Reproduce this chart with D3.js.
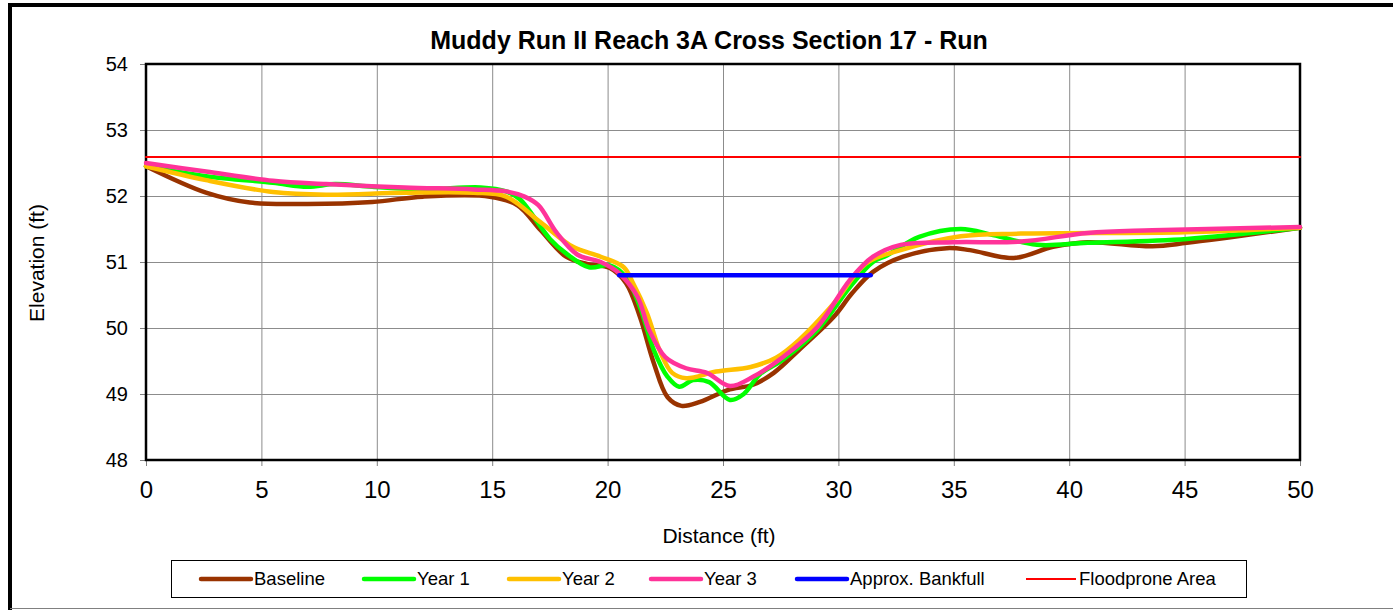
<!DOCTYPE html>
<meta charset="utf-8">
<style>
body { margin: 0; background: #fff; }
svg text { font-family: "Liberation Sans", Arial, sans-serif; fill: #000; }
.grid line { stroke: #8c8c8c; stroke-width: 1px; }
.series { fill: none; stroke-linecap: round; stroke-linejoin: round; }
</style>
<body>
<svg width="1393" height="610"></svg>
<script src="https://cdn.jsdelivr.net/npm/d3@7"></script>
<script>
// survey points: [distance (ft), elevation (ft)]
var baseline = [[0,52.45],[2.6,52.05],[4.5,51.9],[7,51.88],[9.8,51.91],[12,51.99],[14.9,51.99],[16.1,51.86],[17.1,51.48],[18.2,51.08],[19.1,50.97],[20.1,50.91],[20.8,50.68],[21.4,50.17],[22,49.47],[22.6,48.95],[23.2,48.82],[24,48.88],[25.2,49.06],[26.3,49.14],[27.2,49.32],[28.3,49.67],[29.8,50.17],[30.6,50.53],[31.5,50.85],[32.8,51.08],[34.7,51.21],[35.7,51.18],[37.6,51.06],[39.3,51.23],[40.8,51.3],[43.6,51.24],[45.1,51.29],[50,51.52]];
var year1 = [[0,52.45],[2.6,52.3],[5.5,52.2],[7,52.14],[8.2,52.18],[9.8,52.14],[12,52.1],[14.5,52.13],[15.6,52.07],[16.2,51.95],[17.5,51.35],[18.2,51.13],[19.2,50.92],[20.1,50.95],[20.8,50.77],[21.4,50.32],[22,49.67],[22.6,49.26],[23.1,49.11],[23.7,49.21],[24.4,49.18],[25.3,48.91],[25.9,49.0],[26.6,49.3],[27.6,49.52],[29.1,49.97],[30.5,50.62],[31.5,51.0],[32.1,51.1],[33.5,51.38],[35.3,51.5],[36.7,51.41],[38.6,51.26],[40.8,51.29],[45.1,51.35],[50,51.52]];
var year2 = [[0,52.45],[2.6,52.24],[5.5,52.06],[7.8,52.02],[11.2,52.05],[14.2,52.05],[15.6,51.99],[17.1,51.6],[18.5,51.23],[19.7,51.08],[20.7,50.92],[21.1,50.68],[21.7,50.23],[22.3,49.62],[22.8,49.32],[23.4,49.24],[24.7,49.34],[26.2,49.41],[27.3,49.55],[28.3,49.82],[29.8,50.37],[31.2,50.98],[32.7,51.18],[35.3,51.39],[37.9,51.43],[45,51.45],[50,51.52]];
var year3 = [[0,52.5],[2.6,52.37],[5.5,52.23],[7.8,52.18],[11.2,52.13],[14.2,52.1],[15.6,52.07],[16.4,51.99],[17,51.86],[17.8,51.44],[18.7,51.11],[19.7,51.0],[20.5,50.83],[21.3,50.47],[21.8,49.97],[22.5,49.56],[23.4,49.39],[24.3,49.32],[25.3,49.12],[26.3,49.26],[27.6,49.56],[29.1,50.02],[30.5,50.73],[31.5,51.08],[32.7,51.26],[35,51.3],[37.9,51.31],[40.8,51.44],[43.6,51.48],[50,51.53]];
var bankfull = [[20.5,50.8],[31.4,50.8]];
var floodprone = [[0,52.59],[50,52.59]];

var xTicks = [0,5,10,15,20,25,30,35,40,45,50];
var yTicks = [48,49,50,51,52,53,54];

var seriesNames = ["Baseline","Year 1","Year 2","Year 3","Approx. Bankfull","Floodprone Area"];
var seriesColors = ["#993300","#00ff00","#ffc000","#ff3399","#0000ff","#ff0000"];
var seriesWidths = [4.5,4.5,4.5,4.5,4.5,2];
var seriesData = [baseline, year1, year2, year3, bankfull, floodprone];

var svg = d3.select("svg"),
    margin = {top: 64, left: 146},
    width = 1154,
    height = 396;

// outer chart frame (right edge runs off the picture)
svg.append("path").attr("d", "M10,610 V5 H1400")
    .attr("fill", "none").attr("stroke", "#000").attr("stroke-width", 4);
svg.append("line").attr("x1", 10).attr("x2", 1393).attr("y1", 608.5).attr("y2", 608.5)
    .attr("stroke", "#808080").attr("stroke-width", 1);

svg.append("text")
    .attr("x", 709).attr("y", 49)
    .attr("text-anchor", "middle")
    .style("font-size", "25px").style("font-weight", "bold")
    .text("Muddy Run II Reach 3A Cross Section 17 - Run");

var g = svg.append("g").attr("transform", "translate(" + margin.left + "," + margin.top + ")");

var x = d3.scaleLinear().domain([0, 50]).range([0, width]),
    y = d3.scaleLinear().domain([48, 54]).range([height, 0]);

// gridlines
g.append("g").attr("class", "grid")
  .selectAll("line.v").data(xTicks.slice(1, -1)).enter().append("line")
    .attr("x1", function(d) { return x(d) + 0.5; }).attr("x2", function(d) { return x(d) + 0.5; })
    .attr("y1", 0).attr("y2", height);
g.append("g").attr("class", "grid")
  .selectAll("line.h").data(yTicks.slice(1, -1)).enter().append("line")
    .attr("y1", function(d) { return y(d) + 0.5; }).attr("y2", function(d) { return y(d) + 0.5; })
    .attr("x1", 0).attr("x2", width);

var xAxis = g.append("g")
    .attr("transform", "translate(0," + height + ")")
    .call(d3.axisBottom(x).tickValues(xTicks).tickFormat(d3.format("d")).tickSize(6).tickPadding(15));
var yAxis = g.append("g")
    .call(d3.axisLeft(y).tickValues(yTicks).tickFormat(d3.format("d")).tickSize(6).tickPadding(12));
xAxis.select(".domain").remove();
yAxis.select(".domain").remove();
xAxis.selectAll("line").attr("stroke", "#808080");
yAxis.selectAll("line").attr("stroke", "#808080");
xAxis.selectAll("text").style("font-size", "24px").style("font-family", "Liberation Sans, Arial, sans-serif");
yAxis.selectAll("text").style("font-size", "20px").style("font-family", "Liberation Sans, Arial, sans-serif");

// plot border
g.append("rect").attr("width", width).attr("height", height)
    .attr("fill", "none").attr("stroke", "#000").attr("stroke-width", 2.5);

var line = d3.line()
    .curve(d3.curveCatmullRom.alpha(0.5))
    .x(function(d) { return x(d[0]); })
    .y(function(d) { return y(d[1]); });

g.selectAll(".series").data([5, 0, 1, 2, 3, 4]).enter().append("path")
    .attr("class", "series")
    .attr("d", function(i) { return line(seriesData[i]); })
    .attr("stroke", function(i) { return seriesColors[i]; })
    .attr("stroke-width", function(i) { return seriesWidths[i]; })
    .attr("stroke-linecap", function(i) { return i == 5 ? "butt" : "round"; });

svg.append("text")
    .attr("x", 719).attr("y", 543)
    .attr("text-anchor", "middle")
    .style("font-size", "21px")
    .text("Distance (ft)");

svg.append("text")
    .attr("transform", "translate(44,263) rotate(-90)")
    .attr("text-anchor", "middle")
    .style("font-size", "21px")
    .text("Elevation (ft)");

// legend
svg.append("rect").attr("x", 171.5).attr("y", 560.5).attr("width", 1075).attr("height", 37)
    .attr("fill", "#fff").attr("stroke", "#000").attr("stroke-width", 1);
var legendX = [201, 364, 509, 651, 797, 1026];
var item = svg.selectAll(".legend").data(seriesNames).enter().append("g")
    .attr("transform", function(d, i) { return "translate(" + legendX[i] + ",579)"; });
item.append("line")
    .attr("x1", 0).attr("x2", 50)
    .attr("stroke", function(d, i) { return seriesColors[i]; })
    .attr("stroke-width", function(d, i) { return seriesWidths[i]; })
    .attr("stroke-linecap", function(d, i) { return i == 5 ? "butt" : "round"; });
item.append("text")
    .attr("x", 53).attr("dy", "0.35em")
    .style("font-size", "18.5px")
    .text(function(d) { return d; });
</script>
</body>
